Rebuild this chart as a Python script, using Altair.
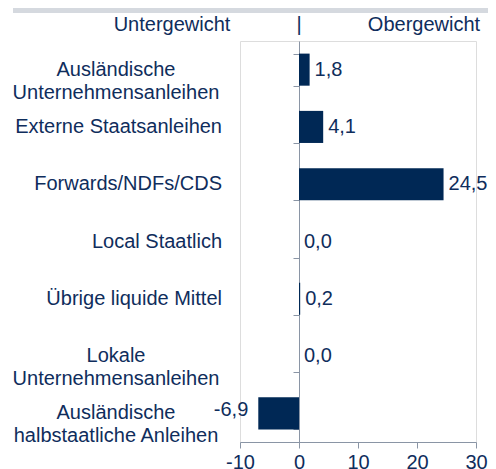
import altair as alt
import pandas as pd

categories = [
    "Ausländische\nUnternehmensanleihen",
    "Externe Staatsanleihen",
    "Forwards/NDFs/CDS",
    "Local Staatlich",
    "Übrige liquide Mittel",
    "Lokale\nUnternehmensanleihen",
    "Ausländische\nhalbstaatliche Anleihen",
]
values = [1.8, 4.1, 24.5, 0.0, 0.2, 0.0, -6.9]
x_ticks = [-10, 0, 10, 20, 30]
header_left = "Untergewicht"
header_mid = "|"
header_right = "Obergewicht"

NAVY = "#002855"
TEXT = "#0f2d5c"
AXIS = "#8a95a5"
FONT = "Liberation Sans"
FS = 20

W, H = 236, 401
PADL = 232

df = pd.DataFrame({"cat": categories, "val": values})
df["multi"] = df["cat"].str.contains("\n")

y_enc = alt.Y(
    "cat:N",
    sort=categories,
    scale=alt.Scale(paddingInner=0.44, paddingOuter=0.22),
    axis=alt.Axis(
        title=None,
        offset=-W / 4,
        tickBand="extent",
        tickSize=6,
        tickColor=AXIS,
        domainColor=AXIS,
        labels=False,
    ),
)

x_enc = alt.X(
    "val:Q",
    scale=alt.Scale(domain=[-10, 30], nice=False),
    axis=alt.Axis(
        title=None,
        values=x_ticks,
        grid=False,
        tickSize=6,
        tickColor=AXIS,
        domainColor=AXIS,
        labelFont=FONT,
        labelFontSize=FS,
        labelColor=TEXT,
        labelPadding=4,
        labelFlush=False,
        labelExpr="datum.value + ''",
    ),
)

base = alt.Chart(df)
y_plain = alt.Y("cat:N", sort=categories)
txt_expr = "replace(replace(format(datum.val, '.1f'), '.', ','), '\u2212', '-')"

bars = base.mark_bar(color=NAVY).encode(x=x_enc, y=y_enc)

labels_pos = (
    base.transform_filter("datum.val >= 0")
    .transform_calculate(txt=txt_expr)
    .mark_text(align="left", dx=5, font=FONT, fontSize=FS, color=TEXT)
    .encode(x="val:Q", y=y_plain, text="txt:N")
)
labels_neg = (
    base.transform_filter("datum.val < 0")
    .transform_calculate(txt=txt_expr)
    .mark_text(align="right", dx=-10, dy=-3, font=FONT, fontSize=FS, color=TEXT)
    .encode(x="val:Q", y=y_plain, text="txt:N")
)

cat_single = (
    base.transform_filter("!datum.multi")
    .mark_text(align="right", baseline="middle", font=FONT, fontSize=FS, color=TEXT)
    .encode(x=alt.value(222 - 8 - PADL), y=y_plain, text="cat:N")
)
cat_multi = (
    base.transform_filter("datum.multi")
    .mark_text(align="center", baseline="middle", lineBreak="\n", lineHeight=23,
               font=FONT, fontSize=FS, color=TEXT)
    .encode(x=alt.value(116 - 8 - PADL), y=y_plain, text="cat:N")
)

one = pd.DataFrame({"a": [0]})


def hdr_text(txt, px):
    return (
        alt.Chart(one)
        .mark_text(font=FONT, fontSize=FS, color=TEXT, baseline="middle")
        .encode(x=alt.value(px - 8 - PADL), y=alt.value(-16), text=alt.value(txt))
    )


band = alt.Chart(one).mark_rect(color="#d5d9df").encode(
    x=alt.value(13 - 8 - PADL), x2=alt.value(300), y=alt.value(-33), y2=alt.value(-28)
)

chart = (
    alt.layer(
        bars,
        labels_pos,
        labels_neg,
        cat_single,
        cat_multi,
        band,
        hdr_text(header_left, 172),
        hdr_text(header_mid, 299),
        hdr_text(header_right, 424),
    )
    .properties(
        width=W,
        height=H,
        autosize=alt.AutoSizeParams(type="none"),
        padding={"left": PADL, "top": 33, "right": 480 - PADL - W, "bottom": 27},
    )
    .configure_view(stroke=None)
    .configure(background="white")
)

chart.save("out.html", embed_options={"renderer": "svg", "actions": False})
